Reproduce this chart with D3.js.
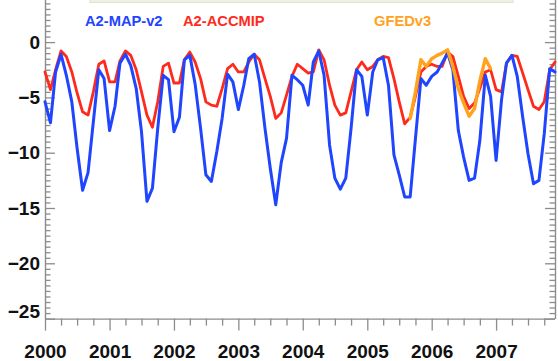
<!DOCTYPE html>
<html>
<head>
<meta charset="utf-8">
<script src="https://cdn.jsdelivr.net/npm/d3@7"></script>
<style>
  html, body { margin: 0; padding: 0; background: #ffffff; }
  svg { display: block; font-family: "Liberation Sans", Arial, Helvetica, sans-serif; }
</style>
</head>
<body>
<svg id="chart" width="558" height="361"></svg>
<script>
// Monthly emissions anomaly, Jan 2000 – Dec 2007
const startYear = 2000;
const yearLabels = ["2000", "2001", "2002", "2003", "2004", "2005", "2006", "2007"];

// A2-MAP-v2 (monthly, 96 values)
const mapV2 = [
  -5.4, -7.3, -2.7, -1.1, -3.0, -5.4, -9.6, -13.4, -11.8, -7.2, -2.5, -3.3,
  -8.0, -5.8, -1.9, -1.1, -2.1, -4.2, -8.1, -14.4, -13.2, -7.8, -3.0, -3.4,
  -8.1, -6.8, -1.6, -1.2, -3.8, -7.8, -12.0, -12.6, -9.9, -6.9, -2.9, -3.6,
  -6.1, -3.9, -1.5, -1.1, -3.6, -7.8, -11.4, -14.7, -10.9, -8.7, -3.0, -3.4,
  -3.9, -5.7, -1.8, -0.8, -3.0, -9.3, -12.3, -13.3, -12.3, -7.8, -2.5, -3.1,
  -6.6, -2.7, -1.6, -1.4, -3.9, -10.2, -12.0, -14.0, -14.0, -8.7, -3.3, -3.9,
  -3.1, -2.7, -1.9, -1.0, -2.5, -8.0, -10.4, -12.5, -12.3, -8.9, -3.0, -4.9,
  -10.7, -5.2, -1.9, -1.2, -3.1, -6.8, -10.1, -12.8, -12.5, -8.3, -2.4, -2.7
];

// A2-ACCMIP (monthly, 96 values)
const accmip = [
  -2.7, -4.3, -2.5, -0.8, -1.3, -2.7, -4.6, -6.3, -6.6, -4.5, -2.0, -1.7,
  -3.6, -3.6, -1.7, -0.8, -1.2, -2.5, -4.5, -6.6, -7.7, -5.4, -2.2, -1.9,
  -3.7, -3.7, -1.6, -0.9, -1.8, -3.3, -5.4, -5.7, -5.8, -4.2, -2.4, -2.0,
  -2.7, -2.7, -1.8, -1.1, -1.6, -3.3, -4.9, -6.9, -6.4, -4.8, -3.1, -2.0,
  -2.4, -2.8, -2.7, -0.7, -1.6, -3.9, -5.7, -6.6, -6.4, -4.5, -2.5, -1.8,
  -2.5, -2.2, -1.6, -1.3, -1.4, -3.3, -5.4, -7.4, -6.8, -4.9, -2.7, -2.2,
  -2.0, -2.2, -2.2, -0.9, -1.3, -3.1, -4.9, -6.0, -5.5, -4.2, -2.7, -2.5,
  -4.3, -4.5, -1.9, -1.2, -1.3, -2.8, -4.3, -5.8, -6.1, -5.4, -2.5, -1.8
];

// GFEDv3, Sep 2005 – Dec 2006
const gfedStartMonth = 68; // months after Jan 2000
const gfed = [
  -6.9, -4.5, -1.6, -2.2, -1.5, -1.2, -1.0, -0.7,
  -2.2, -4.2, -5.5, -6.7, -6.0, -3.5, -1.5, -2.4
];

const seriesNames = ["A2-MAP-v2", "A2-ACCMIP", "GFEDv3"];
const seriesColors = ["#1f45ff", "#ff2a1c", "#ffa21e"];
const yMajorTicks = [-25, -20, -15, -10, -5, 0];

const svg = d3.select("#chart");
const left = 45, right = 555, bottom = 318.6;
const axisColor = "#8c8c8c";

const monthDate = i => new Date(startYear, i, 1);

const x = d3.scaleTime()
  .domain([monthDate(0), monthDate(95)])
  .range([left, right]);

// 11.06 px per unit; top of the frame lies above the visible area
const y = d3.scaleLinear()
  .domain([-25, 5])
  .range([bottom, bottom - 30 * 11.06]);

// legend frame (its lower edge shows at the top)
svg.append("rect")
  .attr("x", 90).attr("y", -10)
  .attr("width", 423).attr("height", 12.5)
  .attr("fill", "#efefe2")
  .attr("stroke", "#e2e2d4")
  .attr("stroke-width", 1);

// ---- axes ----
function styleAxis(g) {
  g.selectAll("path.domain").attr("stroke", axisColor).attr("stroke-width", 1.4);
  g.selectAll(".tick line").attr("stroke", axisColor).attr("stroke-width", 1.3);
  g.selectAll(".tick text")
    .attr("fill", "#111")
    .attr("font-weight", "bold")
    .attr("font-size", 19)
    .attr("font-family", "'Liberation Sans', Arial, Helvetica, sans-serif");
}

const yearDates = yearLabels.map(s => new Date(+s, 0, 1));
const minorMonths = d3.range(0, 96, 3).filter(i => i % 12 !== 0).map(monthDate);
const halfSteps = d3.range(-25, 5, 0.5).filter(v => v % 5 !== 0);

// bottom: minor ticks
svg.append("g")
  .attr("transform", `translate(0,${bottom})`)
  .call(d3.axisBottom(x).tickValues(minorMonths).tickSize(7).tickFormat(""))
  .call(styleAxis)
  .call(g => g.select("path.domain").remove());

// bottom: year ticks and labels
const xAxisG = svg.append("g")
  .attr("transform", `translate(0,${bottom})`)
  .call(d3.axisBottom(x).tickValues(yearDates).tickSize(12).tickSizeOuter(0)
    .tickFormat((d, i) => yearLabels[i]))
  .call(styleAxis);
xAxisG.selectAll(".tick text").attr("y", 39.5).attr("dy", 0);
xAxisG.select("path.domain").attr("d", `M${left},0.5H${right}`);

// left: minor ticks (inward)
svg.append("g")
  .attr("transform", `translate(${left},0)`)
  .call(d3.axisLeft(y).tickValues(halfSteps).tickSize(-5.5).tickFormat(""))
  .call(styleAxis)
  .call(g => g.select("path.domain").remove());

// left: major ticks and labels
const yAxisG = svg.append("g")
  .attr("transform", `translate(${left},0)`)
  .call(d3.axisLeft(y).tickValues(yMajorTicks).tickSize(-10).tickSizeOuter(0)
    .tickPadding(5).tickFormat(d3.format("d")))
  .call(styleAxis);
yAxisG.selectAll(".tick text").filter(d => d === -25).attr("transform", "translate(0,-7)");

// right: mirrored ticks
svg.append("g")
  .attr("transform", `translate(${right},0)`)
  .call(d3.axisRight(y).tickValues(halfSteps).tickSize(-5.5).tickFormat(""))
  .call(styleAxis)
  .call(g => g.select("path.domain").remove());
svg.append("g")
  .attr("transform", `translate(${right},0)`)
  .call(d3.axisRight(y).tickValues(yMajorTicks).tickSize(-10).tickSizeOuter(0).tickFormat(""))
  .call(styleAxis);

// ---- series ----
const line = d3.line()
  .x(d => x(d.date))
  .y(d => y(d.v));

const toPoints = (vals, offset) => vals.map((v, i) => ({ date: monthDate(i + offset), v }));

const series = [
  { name: seriesNames[1], color: seriesColors[1], pts: toPoints(accmip, 0), w: 2.8 },
  { name: seriesNames[0], color: seriesColors[0], pts: toPoints(mapV2, 0), w: 3 },
  { name: seriesNames[2], color: seriesColors[2], pts: toPoints(gfed, gfedStartMonth), w: 3.4 }
];

svg.append("g").selectAll("path")
  .data(series)
  .join("path")
  .attr("d", d => line(d.pts))
  .attr("fill", "none")
  .attr("stroke", d => d.color)
  .attr("stroke-width", d => d.w)
  .attr("stroke-linejoin", "round")
  .attr("stroke-linecap", "round");

// ---- legend labels ----
const legendPos = [[85, 26], [183, 26], [374, 25.5]];
svg.append("g").selectAll("text")
  .data(seriesNames)
  .join("text")
  .attr("x", (d, i) => legendPos[i][0])
  .attr("y", (d, i) => legendPos[i][1])
  .attr("fill", (d, i) => seriesColors[i])
  .attr("font-weight", "bold")
  .attr("font-size", 14.7)
  .text(d => d);
</script>
</body>
</html>
